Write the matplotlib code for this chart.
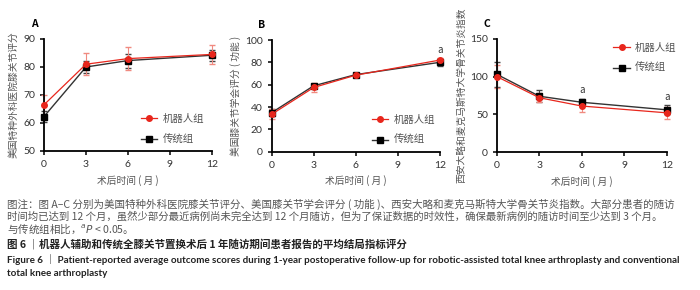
import matplotlib
matplotlib.use('Agg')
import matplotlib.pyplot as plt

plt.rcParams['font.family'] = ['Noto Sans CJK SC', 'DejaVu Sans']

months = [0, 3, 6, 12]
xticks = [0, 3, 6, 9, 12]

# A: 美国特种外科医院膝关节评分
hss_robot = [66.5, 81.0, 83.0, 84.5]
hss_robot_err = [3.5, 4.0, 4.0, 3.5]
hss_conv = [62.3, 80.0, 82.3, 84.2]
hss_conv_err = [2.0, 2.0, 2.5, 2.0]

# B: 美国膝关节学会评分（功能）
kss_robot = [33.5, 57.5, 68.5, 82.0]
kss_robot_err = [4.5, 4.0, 1.0, 2.0]
kss_conv = [35.0, 59.0, 69.0, 80.0]
kss_conv_err = [3.0, 2.0, 1.0, 3.0]

# C: WOMAC
womac_robot = [100.0, 72.0, 61.0, 52.0]
womac_robot_err = [15.0, 6.0, 8.0, 8.0]
womac_conv = [103.0, 74.0, 66.0, 56.0]
womac_conv_err = [17.0, 8.0, 5.0, 6.0]

red = '#e8261c'
red_err = '#f08a80'
gray_txt = '#555555'

fig = plt.figure(figsize=(7, 2.9), dpi=100)

panels = [
    dict(pos=[44/700, 1-151/290, 168/700, 112/290], label='A',
         ylabel='美国特种外科医院膝关节评分', ylim=(50, 90), yticks=[50, 60, 70, 80, 90],
         r=hss_robot, re=hss_robot_err, c=hss_conv, ce=hss_conv_err,
         leg_loc=(0.55, 0.02), sig=[]),
    dict(pos=[271.7/700, 1-151.7/290, 168/700, 111.7/290], label='B',
         ylabel='美国膝关节学会评分 ( 功能 )', ylim=(0, 100), yticks=[0, 20, 40, 60, 80, 100],
         r=kss_robot, re=kss_robot_err, c=kss_conv, ce=kss_conv_err,
         leg_loc=(0.57, 0.02), sig=[(12, 87)]),
    dict(pos=[497/700, 1-152/290, 169.7/700, 113/290], label='C',
         ylabel='西安大略和麦克马斯特大学骨关节炎指数', ylim=(0, 150), yticks=[0, 50, 100, 150],
         r=womac_robot, re=womac_robot_err, c=womac_conv, ce=womac_conv_err,
         leg_loc=(0.66, 0.66), sig=[(6, 76), (12, 67)]),
]

for p in panels:
    ax = fig.add_axes(p['pos'])
    ax.errorbar(months, p['c'], yerr=p['ce'], fmt='none', ecolor='#444444',
                capsize=2.5, elinewidth=0.8, clip_on=False, zorder=2)
    ax.errorbar(months, p['r'], yerr=p['re'], fmt='none', ecolor=red_err,
                capsize=2.5, elinewidth=0.8, clip_on=False, zorder=2)
    ax.plot(months, p['c'], color='#333333', lw=1.0, marker='s', ms=4,
            mfc='black', mec='black', clip_on=False, zorder=3, label='传统组')
    ax.plot(months, p['r'], color=red, lw=0.9, marker='o', ms=4,
            mfc=red, mec=red, clip_on=False, zorder=4, label='机器人组')
    ax.set_xlim(0, 12)
    ax.set_ylim(*p['ylim'])
    ax.set_xticks(xticks)
    ax.set_yticks(p['yticks'])
    for s in ['top', 'right']:
        ax.spines[s].set_visible(False)
    for s in ['left', 'bottom']:
        ax.spines[s].set_linewidth(1.3)
    ax.tick_params(labelsize=7.5, width=1.1, length=3, colors='black', labelcolor='#333333')
    for t in ax.get_xticklabels() + ax.get_yticklabels():
        t.set_family('Lato')
    ax.set_xlabel('术后时间 ( 月 )', fontsize=7, color=gray_txt, labelpad=4)
    ax.set_ylabel(p['ylabel'], fontsize=7, color=gray_txt, labelpad=3)
    ax.text(-0.08, 1.09, p['label'], transform=ax.transAxes, fontsize=7.5,
            fontweight='bold', ha='left', va='bottom')
    for sx, sy in p['sig']:
        ax.text(sx, sy, 'a', fontsize=7, ha='center', va='bottom', color='#333333')
    h, l = ax.get_legend_handles_labels()
    leg = ax.legend(h[::-1], l[::-1], loc='lower left', bbox_to_anchor=p['leg_loc'],
                    frameon=False, fontsize=7.5, handlelength=1.6, labelspacing=1.0,
                    handletextpad=0.5, borderaxespad=0)
    for t in leg.get_texts():
        t.set_color(gray_txt)

lines = [
    ('图注：图 A–C 分别为美国特种外科医院膝关节评分、美国膝关节学会评分 ( 功能 )、西安大略和麦克马斯特大学骨关节炎指数。大部分患者的随访',
     204, 'normal', 673),
    ('时间均已达到 12 个月，虽然少部分最近病例尚未完全达到 12 个月随访，但为了保证数据的时效性，确保最新病例的随访时间至少达到 3 个月。',
     216.5, 'normal', 662),
    ('与传统组相比，$^{a}\\it{P}$ < 0.05。', 229, 'normal', None),
    ('图 6 ｜机器人辅助和传统全膝关节置换术后 1 年随访期间患者报告的平均结局指标评分', 244, 'bold', 406),
    ('Figure 6 ｜ Patient-reported average outcome scores during 1-year postoperative follow-up for robotic-assisted total knee arthroplasty and conventional',
     260, 'bold', 679),
    ('total knee arthroplasty', 274, 'bold', None),
]
texts = []
for txt, y, w, right in lines:
    color = gray_txt if w == 'normal' else '#222222'
    fam = ['Lato', 'Noto Sans CJK SC'] if txt[0].isascii() else ['Noto Sans CJK SC', 'DejaVu Sans']
    t = fig.text(7/700, 1 - y/290, txt, fontsize=7.5, fontweight=w, color=color,
                 ha='left', va='center', family=fam)
    texts.append((t, right))

# scale the caption lines so their widths match the reference
fig.canvas.draw()
r = fig.canvas.get_renderer()
for t, right in texts:
    if right is not None:
        bb = t.get_window_extent(r)
        t.set_fontsize(7.5 * (right - 7) / bb.width)
texts[2][0].set_fontsize(texts[0][0].get_fontsize())
texts[5][0].set_fontsize(texts[4][0].get_fontsize())

fig.savefig('out.png', dpi=100)
